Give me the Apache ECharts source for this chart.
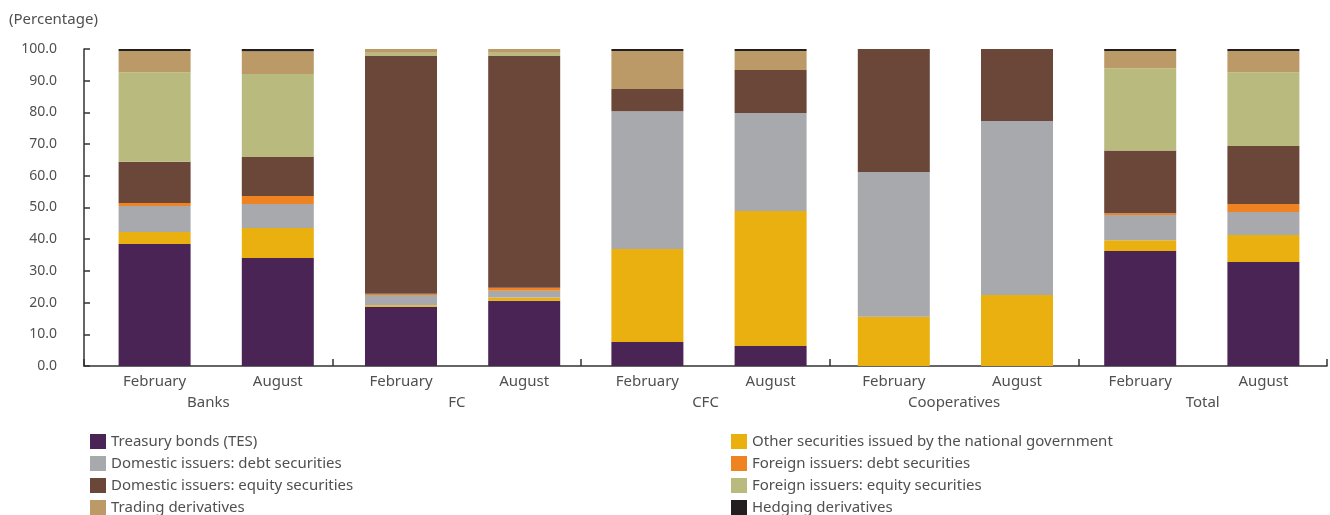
<!DOCTYPE html>
<html>
<head>
<meta charset="utf-8">
<script src="https://cdn.jsdelivr.net/npm/echarts@6/dist/echarts.min.js"></script>
<style>
  html, body { margin: 0; padding: 0; background: #fff; }
  #chart { width: 1330px; height: 515px; }
</style>
</head>
<body>
<div id="chart"></div>
<script>
// Month of each bar, and the institution group each pair belongs to
const months = ['February', 'August', 'February', 'August', 'February', 'August', 'February', 'August', 'February', 'August'];
const groups = ['Banks', 'FC', 'CFC', 'Cooperatives', 'Total'];
const yTicks = [0, 10, 20, 30, 40, 50, 60, 70, 80, 90, 100];

// Portfolio composition (%), one value per bar, stacked bottom to top
const treasuryBonds   = [38.5, 34.1, 18.7, 20.6,  7.6,  6.3,  0.0,  0.0, 36.3, 32.8];
const otherGovernment = [ 3.8,  9.4,  0.5,  1.0, 29.3, 42.6, 15.5, 22.4,  3.4,  8.5];
const domesticDebt    = [ 8.2,  7.6,  3.2,  2.1, 43.5, 30.9, 45.7, 54.9,  7.9,  7.3];
const foreignDebt     = [ 0.9,  2.5,  0.4,  1.0,  0.0,  0.0,  0.0,  0.0,  0.6,  2.5];
const domesticEquity  = [13.0, 12.3, 75.0, 73.1,  7.0, 13.6, 38.8, 22.7, 19.8, 18.3];
const foreignEquity   = [28.3, 26.2,  1.0,  1.0,  0.0,  0.0,  0.0,  0.0, 25.9, 23.3];
const tradingDeriv    = [ 6.7,  7.2,  1.2,  1.2, 12.0,  6.0,  0.0,  0.0,  5.5,  6.7];
const hedgingDeriv    = [ 0.6,  0.7,  0.0,  0.0,  0.6,  0.6,  0.0,  0.0,  0.6,  0.6];

const seriesDefs = [
  { name: 'Treasury bonds (TES)', data: treasuryBonds, color: '#4A2454' },
  { name: 'Other securities issued by the national government', data: otherGovernment, color: '#E9B00F' },
  { name: 'Domestic issuers: debt securities', data: domesticDebt, color: '#A8A9AD' },
  { name: 'Foreign issuers: debt securities', data: foreignDebt, color: '#F08321' },
  { name: 'Domestic issuers: equity securities', data: domesticEquity, color: '#6B4739' },
  { name: 'Foreign issuers: equity securities', data: foreignEquity, color: '#B9BA7E' },
  { name: 'Trading derivatives', data: tradingDeriv, color: '#BC9A68' },
  { name: 'Hedging derivatives', data: hedgingDeriv, color: '#231F20' }
];

const FONT = '"Noto Sans", "Open Sans", sans-serif';
const TEXT = '#505050';
const AXIS = '#333333';

const chart = echarts.init(document.getElementById('chart'), null, { renderer: 'canvas' });

const legendText = { fontFamily: FONT, fontSize: 15, color: TEXT, lineHeight: 15 };
const legendBase = {
  orient: 'vertical', top: 429, height: 120,
  itemWidth: 16, itemHeight: 15, itemGap: 7,
  icon: 'rect', textStyle: legendText
};

chart.setOption({
  animation: false,
  backgroundColor: '#ffffff',
  title: {
    text: '(Percentage)',
    left: 4, top: 7,
    textStyle: { fontFamily: FONT, fontSize: 15, fontWeight: 'normal', color: TEXT }
  },
  legend: [
    Object.assign({}, legendBase, {
      left: 85,
      data: [seriesDefs[0].name, seriesDefs[2].name, seriesDefs[4].name, seriesDefs[6].name]
    }),
    Object.assign({}, legendBase, {
      left: 726,
      data: [seriesDefs[1].name, seriesDefs[3].name, seriesDefs[5].name, seriesDefs[7].name]
    })
  ],
  grid: [
    { left: 93, right: 5, top: 49, bottom: 149, containLabel: false },
    { left: 84, right: 3, top: 49, bottom: 149, containLabel: false }
  ],
  xAxis: [
    {
      type: 'category', gridIndex: 0, data: months,
      axisLine: { show: false }, axisTick: { show: false },
      axisLabel: { margin: 8, fontFamily: FONT, fontSize: 15, color: TEXT, interval: 0 }
    },
    {
      type: 'category', gridIndex: 1, data: groups, boundaryGap: true,
      axisLine: { show: true, lineStyle: { color: AXIS, width: 1.5 } },
      axisTick: { show: true, inside: true, length: 7, lineStyle: { color: AXIS, width: 1.5 } },
      axisLabel: { margin: 29, fontFamily: FONT, fontSize: 15, color: TEXT, interval: 0 }
    }
  ],
  yAxis: [
    {
      type: 'value', gridIndex: 0, min: yTicks[0], max: yTicks[yTicks.length - 1], interval: 10,
      offset: 9,
      axisLine: { show: true, lineStyle: { color: AXIS, width: 1.5 } },
      axisTick: { show: true, inside: true, length: 6, lineStyle: { color: AXIS, width: 1.5 } },
      splitLine: { show: false },
      axisLabel: {
        margin: 27, fontFamily: FONT, fontSize: 14, color: TEXT,
        formatter: v => v.toFixed(1)
      }
    },
    {
      type: 'value', gridIndex: 1, min: 0, max: 100, show: false
    }
  ],
  series: seriesDefs.map(s => ({
    name: s.name,
    type: 'bar',
    stack: 'composition',
    xAxisIndex: 0, yAxisIndex: 0,
    barWidth: 72,
    itemStyle: { color: s.color },
    emphasis: { disabled: true },
    data: s.data
  }))
});
</script>
</body>
</html>
